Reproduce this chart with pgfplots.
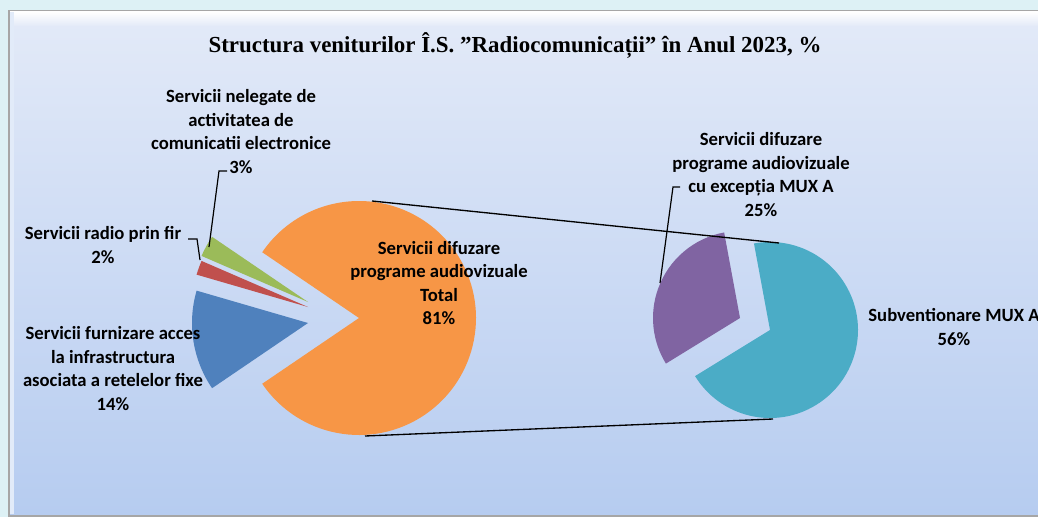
\documentclass[border=0pt]{standalone}
\usepackage{pgfplots}
\usepackage{pgfplotstable}
\pgfplotsset{compat=1.18}
\usepackage{fontspec}
\setmainfont{Carlito}
\newfontfamily\titlefont{Liberation Serif}
\definecolor{cOrange}{HTML}{F79646}
\definecolor{cBlue}{HTML}{4F81BD}
\definecolor{cRed}{HTML}{C0504D}
\definecolor{cGreen}{HTML}{9BBB59}
\definecolor{cPurple}{HTML}{8064A2}
\definecolor{cTeal}{HTML}{4BACC6}
\definecolor{panelTop}{HTML}{E3EAF8}
\definecolor{panelBot}{HTML}{B6CCF0}
\definecolor{outer}{HTML}{DDF1F5}
\definecolor{txt}{HTML}{141414}

\pgfplotstableread{
name value
nelegate 3
radio 2
furnizare 14
difuzare 81
exceptie 25
mux 56
}\datatable

\newcommand{\pieslice}[6]{%
  \fill[#6] (axis cs:#1,#2) -- ++(#4:#3) arc[start angle=#4, end angle=#5, radius=#3] -- cycle;}

\begin{document}%
\begin{tikzpicture}
\pgfplotstablegetelem{0}{value}\of\datatable \let\vG\pgfplotsretval
\pgfplotstablegetelem{1}{value}\of\datatable \let\vR\pgfplotsretval
\pgfplotstablegetelem{2}{value}\of\datatable \let\vB\pgfplotsretval
\pgfplotstablegetelem{3}{value}\of\datatable \let\vO\pgfplotsretval
\pgfplotstablegetelem{4}{value}\of\datatable \let\vP\pgfplotsretval
\pgfplotstablegetelem{5}{value}\of\datatable \let\vT\pgfplotsretval
\pgfmathsetmacro\aG{180-(100-\vO)*1.8}
\pgfmathsetmacro\aR{\aG+\vG*3.6}
\pgfmathsetmacro\aB{\aR+\vR*3.6}
\pgfmathsetmacro\aO{\aB+\vB*3.6}
\pgfmathsetmacro\aOe{\aG+360}
\pgfmathsetmacro\bP{100.5}
\pgfmathsetmacro\bT{\bP+\vP/\vO*360}
\pgfmathsetmacro\bTe{\bP+360}
\begin{axis}[
  name=ax,
  at={(0,0)}, anchor=south west,
  scale only axis, width=778.5pt, height=387.75pt,
  xmin=0, xmax=1038, ymin=0, ymax=517, y dir=reverse,
  hide axis, clip=true,
  every node/.style={text=txt},
]
% background
\fill[outer] (axis cs:0,0) rectangle (axis cs:1038,517);
\fill[gray!70] (axis cs:8,10) rectangle (axis cs:1038,517);
\shade[top color=panelTop, bottom color=panelBot] (axis cs:10,12) rectangle (axis cs:1038,514);
\shade[top color=white, bottom color=panelTop] (axis cs:10,12) rectangle (axis cs:1038,26);
\fill[white!60!panelBot] (axis cs:10,12) rectangle (axis cs:14,514);

% first pie
\pieslice{359}{318}{87.75pt}{\aO}{\aOe}{cOrange}
\pieslice{308}{302}{87pt}{\aG}{\aR}{cGreen}
\pieslice{308}{307}{87pt}{\aR}{\aB}{cRed}
\pieslice{308}{323}{87pt}{\aB}{\aO}{cBlue}
% second pie
\pieslice{770}{330}{66pt}{\bT}{\bTe}{cTeal}
\pieslice{740}{318}{65.25pt}{\bP}{\bT}{cPurple}

% connector lines
\draw[black, line width=1pt] (axis cs:372,201) -- (axis cs:779,243);
\draw[black, line width=1pt] (axis cs:365,436) -- (axis cs:773,419);

% leader lines
\draw[black, line width=0.9pt] (axis cs:209,247) -- (axis cs:219,171) -- (axis cs:227,171);
\draw[black, line width=0.9pt] (axis cs:200,260) -- (axis cs:197,239) -- (axis cs:188,239);
\draw[black, line width=0.9pt] (axis cs:660,283) -- (axis cs:673,187) -- (axis cs:680,187);

% labels
\tikzset{lab/.style={align=center, inner sep=0pt, font=\bfseries\fontsize{14}{17.6}\selectfont}}
\node[lab] at (axis cs:241,131.5) {Servicii nelegate de\\activitatea de\\comunicatii electronice\\3\%};
\node[lab] at (axis cs:103,245) {Servicii radio prin fir\\2\%};
\node[lab] at (axis cs:113,368.5) {Servicii furnizare acces\\la infrastructura\\asociata a retelelor fixe\\14\%};
\node[lab] at (axis cs:439,283) {Servicii difuzare\\programe audiovizuale\\Total\\81\%};
\node[lab] at (axis cs:761,174.5) {Servicii difuzare\\programe audiovizuale\\cu excepția MUX A\\25\%};
\node[lab] at (axis cs:954,327) {Subventionare MUX A\\56\%};
\node[inner sep=0pt, font=\titlefont\bfseries\fontsize{17.2}{20}\selectfont] at (axis cs:515,45) {Structura veniturilor Î.S. ”Radiocomunicații” în Anul 2023, \%};
\end{axis}
\pgfresetboundingbox
\path[use as bounding box] (ax.south west) rectangle (ax.north east);
\end{tikzpicture}%
\end{document}
